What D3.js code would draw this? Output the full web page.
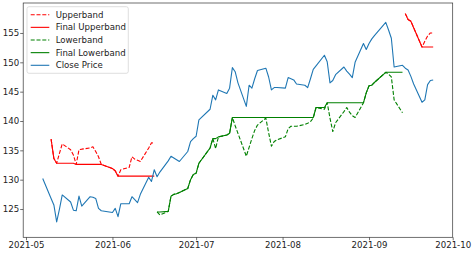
<!DOCTYPE html>
<html>
<head>
<meta charset="utf-8">
<script src="https://cdn.jsdelivr.net/npm/d3@7"></script>
<style>
html,body{margin:0;padding:0;background:#fff;}
svg{display:block;font-family:"DejaVu Sans",sans-serif;}
</style>
</head>
<body>
<svg id="chart" width="474" height="253"></svg>
<script>
// ---------------- data ----------------
const dates = [
 "2021-05-07","2021-05-10","2021-05-11","2021-05-12","2021-05-13","2021-05-14","2021-05-17","2021-05-18","2021-05-19","2021-05-20","2021-05-21","2021-05-24","2021-05-25","2021-05-26","2021-05-27","2021-05-28",
 "2021-06-01","2021-06-02","2021-06-03","2021-06-04","2021-06-07","2021-06-08","2021-06-09","2021-06-10","2021-06-11","2021-06-14","2021-06-15","2021-06-16","2021-06-17","2021-06-18","2021-06-21","2021-06-22","2021-06-23","2021-06-24","2021-06-25","2021-06-28","2021-06-29","2021-06-30",
 "2021-07-01","2021-07-02","2021-07-06","2021-07-07","2021-07-08","2021-07-09","2021-07-12","2021-07-13","2021-07-14","2021-07-15","2021-07-16","2021-07-19","2021-07-20","2021-07-21","2021-07-22","2021-07-23","2021-07-26","2021-07-27","2021-07-28","2021-07-29","2021-07-30",
 "2021-08-02","2021-08-03","2021-08-04","2021-08-05","2021-08-06","2021-08-09","2021-08-10","2021-08-11","2021-08-12","2021-08-13","2021-08-16","2021-08-17","2021-08-18","2021-08-19","2021-08-20","2021-08-23","2021-08-24","2021-08-25","2021-08-26","2021-08-27","2021-08-30","2021-08-31",
 "2021-09-01","2021-09-02","2021-09-03","2021-09-07","2021-09-08","2021-09-09","2021-09-10","2021-09-13","2021-09-14","2021-09-15","2021-09-16","2021-09-17","2021-09-20","2021-09-21","2021-09-22","2021-09-23","2021-09-24"
];
const closePrice = [
 130.2,126.8,125.7,122.8,125.0,127.4,126.2,124.8,124.7,127.2,125.5,127.1,127.0,126.8,125.1,124.7,
 124.4,125.1,123.7,125.9,125.9,127.1,126.6,126.1,127.5,130.4,129.7,131.7,130.5,131.3,133.2,134.0,133.7,133.4,133.1,134.8,136.5,137.0,
 137.4,140.2,142.0,144.4,143.6,145.3,144.7,145.6,149.1,148.4,146.5,142.5,146.1,145.6,147.2,148.6,149.0,147.5,145.3,145.7,145.7,
 145.6,147.4,147.2,147.0,146.3,146.1,145.7,147.2,148.8,149.4,151.2,150.1,146.5,146.9,147.9,149.2,148.5,148.0,147.4,150.0,153.2,152.2,
 153.2,154.0,154.6,156.8,155.5,154.1,149.2,149.5,149.0,148.7,147.6,146.3,143.2,143.6,146.2,146.9,147.0
];
// Upperband (downtrend periods)
const upperStart1 = "2021-05-10";
const upperband1 = [136.9,133.6,132.8,134.5,136.1,135.1,134.2,132.6,135.1,135.2,135.4,135.6,134.8,133.9,132.6,
 131.9,131.5,130.6,131.7,132.1,133.9,133.5,133.3,133.1,135.4,136.3,136.2];
const finalUpper1 = [136.9,133.6,132.8,132.8,132.8,132.8,132.8,132.6,132.6,132.6,132.6,132.6,132.6,132.6,132.6,
 131.9,131.5,130.6,130.6,130.6,130.6,130.6,130.6,130.6,130.6,130.6,130.6];
const upperStart2 = "2021-09-14";
const upperband2 = [158.3,157.3,157.0,155.9,152.6,153.6,154.5,155.0,155.0];
const finalUpper2 = [158.3,157.3,157.0,155.9,152.6,152.6,152.6,152.6,152.6];
// Lowerband (uptrend period)
const lowerStart = "2021-06-17";
const lowerband = [124.5,124.0,124.6,127.2,127.5,127.6,127.8,128.5,130.0,130.9,
 131.1,132.8,135.4,137.0,135.3,137.3,137.6,137.9,140.6,139.2,137.9,134.0,135.5,137.0,138.4,139.3,140.5,138.0,135.7,136.5,136.8,
 137.3,138.7,139.1,139.1,139.1,139.4,139.6,139.9,140.5,142.3,142.0,143.1,140.5,138.2,139.7,141.6,142.3,141.5,140.9,140.6,143.1,144.8,
 146.0,146.1,146.6,148.3,148.0,147.5,143.6,141.4];
const finalLower = [124.5,124.5,124.6,127.2,127.5,127.6,127.8,128.5,130.0,130.9,
 131.1,132.8,135.4,137.0,137.0,137.3,137.6,137.9,140.6,140.6,140.6,140.6,140.6,140.6,140.6,140.6,140.6,140.6,140.6,140.6,140.6,
 140.6,140.6,140.6,140.6,140.6,140.6,140.6,140.6,140.6,142.3,142.3,143.1,143.1,143.1,143.1,143.1,143.1,143.1,143.1,143.1,143.1,144.8,
 146.0,146.1,146.6,148.3,148.3,148.3,148.3,148.3];
const yTicks = [125,130,135,140,145,150,155];
const xTickLabels = ["2021-05","2021-06","2021-07","2021-08","2021-09","2021-10"];
const legendLabels = ["Upperband","Final Upperband","Lowerband","Final Lowerband","Close Price"];

// ---------------- build ----------------
const parse = d3.timeParse("%Y-%m-%d");
const parseM = d3.timeParse("%Y-%m");
function series(startStr, vals){
  const i0 = dates.indexOf(startStr);
  return vals.map((v,i)=>({d:parse(dates[i0+i]), v}));
}
const closeData = dates.map((s,i)=>({d:parse(s), v:closePrice[i]}));

const L=23.2, R=452.7, T=3, B=237.3;
const svg = d3.select("#chart");
const x = d3.scaleTime().domain([parse("2021-04-30"), parse("2021-10-01")]).range([L,R]);
const y = d3.scaleLinear().domain([120.18,160.11]).range([B,T]);

svg.append("defs").append("clipPath").attr("id","clip")
  .append("rect").attr("x",L).attr("y",T).attr("width",R-L).attr("height",B-T);

const line = d3.line().x(d=>x(d.d)).y(d=>y(d.v));
const g = svg.append("g").attr("clip-path","url(#clip)");
const LW = 1.1, DASH = "4,1.8";
const styles = [
  {color:"#ff0000", dash:DASH},
  {color:"#ff0000", dash:null},
  {color:"#008000", dash:DASH},
  {color:"#008000", dash:null},
  {color:"#1f77b4", dash:null}
];
const seriesList = [
  [series(upperStart1, upperband1), series(upperStart2, upperband2)],
  [series(upperStart1, finalUpper1), series(upperStart2, finalUpper2)],
  [series(lowerStart, lowerband)],
  [series(lowerStart, finalLower)],
  [closeData]
];
seriesList.forEach((segs,k)=>{
  segs.forEach(seg=>{
    g.append("path").datum(seg).attr("d",line)
      .attr("fill","none").attr("stroke",styles[k].color)
      .attr("stroke-width",LW).attr("stroke-linejoin","round")
      .attr("stroke-dasharray",styles[k].dash);
  });
});

// axes
const xAxis = d3.axisBottom(x).tickValues(xTickLabels.map(parseM))
  .tickFormat(d3.timeFormat("%Y-%m")).tickSize(3).tickPadding(1.5);
const yAxis = d3.axisLeft(y).tickValues(yTicks).tickFormat(d3.format("d"))
  .tickSize(3).tickPadding(1);
const gx = svg.append("g").attr("transform",`translate(0,${B})`).call(xAxis);
const gy = svg.append("g").attr("transform",`translate(${L},0)`).call(yAxis);
[gx,gy].forEach(a=>{
  a.select(".domain").remove();
  a.selectAll("line").attr("stroke","#333").attr("stroke-width",0.7);
  a.selectAll("text").attr("fill","#222").style("font-size","8.6px")
    .style("font-family","'DejaVu Sans',sans-serif");
});
// spines
svg.append("rect").attr("x",L).attr("y",T).attr("width",R-L).attr("height",B-T)
  .attr("fill","none").attr("stroke","#333").attr("stroke-width",0.7);

// legend
const lg = svg.append("g");
lg.append("rect").attr("x",27).attr("y",6.7).attr("width",101.3).attr("height",66.6)
  .attr("rx",2).attr("fill","#fff").attr("fill-opacity",0.8)
  .attr("stroke","#d0d0d0").attr("stroke-width",0.7);
legendLabels.forEach((lab,i)=>{
  const cy = 14.7 + i*12.65;
  lg.append("line").attr("x1",30.7).attr("x2",49.3).attr("y1",cy).attr("y2",cy)
    .attr("stroke",styles[i].color).attr("stroke-width",LW)
    .attr("stroke-dasharray",styles[i].dash);
  lg.append("text").attr("x",55.7).attr("y",cy).attr("dy","0.35em")
    .style("font-size","8.6px").attr("fill","#222").text(lab);
});
</script>
</body>
</html>
